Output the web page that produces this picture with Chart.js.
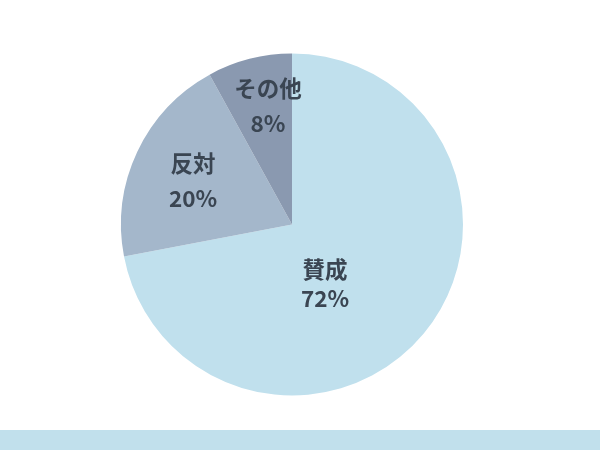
<!DOCTYPE html>
<html>
<head>
<meta charset="utf-8">
<script src="https://cdn.jsdelivr.net/npm/chart.js@4"></script>
<style>
  html, body { margin: 0; padding: 0; background: #ffffff; }
  #wrap { position: relative; width: 600px; height: 450px; overflow: hidden; }
  #band { position: absolute; left: 0; top: 430px; width: 600px; height: 20px; background: #c1e0ec; }
  canvas { position: absolute; left: 0; top: 0; }
</style>
</head>
<body>
<div id="wrap">
  <canvas id="c" width="600" height="450"></canvas>
  <div id="band"></div>
</div>
<script>
const categories = ['賛成', '反対', 'その他'];
const values = [72, 20, 8];
const colors = ['#c0e0ed', '#a4b7cb', '#8a99b0'];
// label anchor offsets as fractions of the radius (relative to pie centre)
const labelOffsets = [[0.193, 0.35], [-0.579, -0.254], [-0.14, -0.693]];
const labelLineGap = [29, 35, 35];

const labelPlugin = {
  id: 'sliceLabels',
  afterDatasetsDraw(chart) {
    const ctx = chart.ctx;
    const meta = chart.getDatasetMeta(0);
    ctx.save();
    ctx.fillStyle = '#3a4552';
    ctx.textAlign = 'center';
    ctx.textBaseline = 'middle';
    ctx.font = 'bold 22.5px "Noto Sans CJK JP", "Noto Sans", sans-serif';
    meta.data.forEach((arc, i) => {
      const r = arc.outerRadius;
      const x = arc.x + labelOffsets[i][0] * r;
      const y = arc.y + labelOffsets[i][1] * r;
      const g = labelLineGap[i] / 2;
      ctx.fillText(categories[i], x, y - g);
      ctx.fillText(values[i] + '%', x, y + g);
    });
    ctx.restore();
  }
};

new Chart(document.getElementById('c'), {
  type: 'pie',
  data: {
    labels: categories,
    datasets: [{ data: values, backgroundColor: colors, borderWidth: 0 }]
  },
  options: {
    responsive: false,
    animation: false,
    layout: { padding: { top: 53, bottom: 54, left: 121, right: 137 } },
    plugins: { legend: { display: false }, tooltip: { enabled: false } }
  },
  plugins: [labelPlugin]
});
</script>
</body>
</html>
